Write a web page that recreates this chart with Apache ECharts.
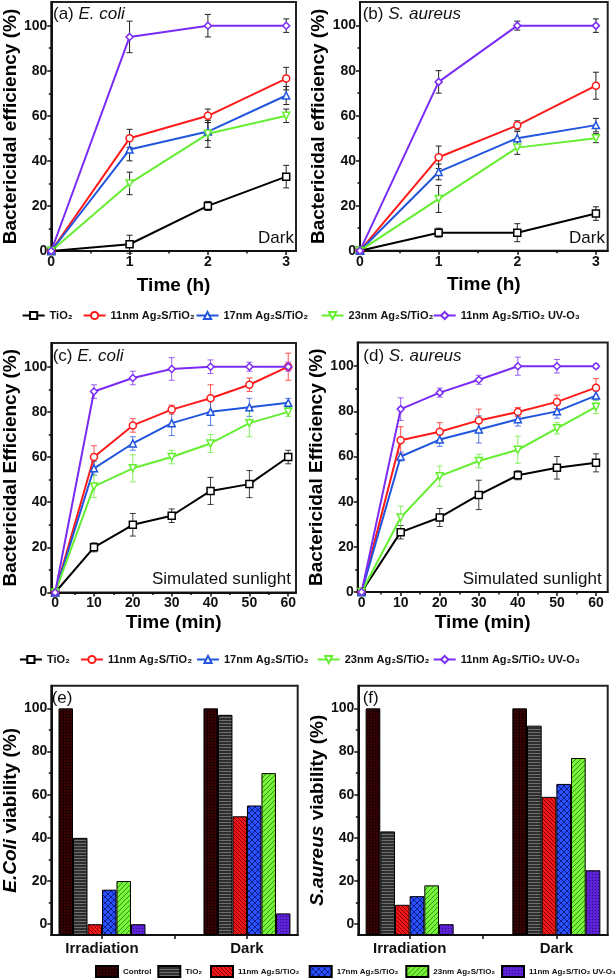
<!DOCTYPE html>
<html><head><meta charset="utf-8">
<script src="https://cdn.jsdelivr.net/npm/echarts@6/dist/echarts.min.js"></script>
<style>html,body{margin:0;padding:0;background:#fff}#c{width:616px;height:979px}</style>
</head><body><div id="c"></div>
<script>
// ---------------- DATA ----------------
const timeH = [0, 1, 2, 3];
const timeMin = [0, 10, 20, 30, 40, 50, 60];
const lineNames = ['TiO2', '11nm', '17nm', '23nm', 'UV'];
const lineLabels = ['TiO₂', '11nm Ag₂S/TiO₂', '17nm Ag₂S/TiO₂', '23nm Ag₂S/TiO₂', '11nm Ag₂S/TiO₂ UV-O₃'];

// (a) E. coli, dark
const aTiO2 = [0, 3, 20, 33],       aTiO2Err = [0, 4, 2, 5];
const a11   = [0, 50, 60, 76.5],    a11Err   = [0, 4, 3, 5];
const a17   = [0, 45, 53, 69],      a17Err   = [0, 5, 4, 4];
const a23   = [0, 30, 52, 60],      a23Err   = [0, 5, 6, 3];
const aUV   = [0, 95, 100, 100],    aUVErr   = [0, 7, 5, 3];
// (b) S. aureus, dark
const bTiO2 = [0, 8, 8, 16.5],      bTiO2Err = [0, 2, 4, 3];
const b11   = [0, 41.5, 55.7, 73.3],b11Err   = [0, 5, 2, 6];
const b17   = [0, 35, 50, 55.8],    b17Err   = [0, 3.5, 3, 3];
const b23   = [0, 23, 45.8, 50],    b23Err   = [0, 6, 3, 2];
const bUV   = [0, 75, 100, 100],    bUVErr   = [0, 5, 2, 3];
// (c) E. coli, simulated sunlight
const cTiO2 = [0, 20, 30, 34, 45, 48, 60],     cTiO2Err = [0, 2, 5, 3, 6, 6, 3];
const c11   = [0, 60, 74, 81, 86, 92, 100],    c11Err   = [0, 5, 3, 2, 6, 3, 6];
const c17   = [0, 55, 66, 75, 80, 82, 84],     c17Err   = [0, 3, 3, 5.5, 6, 4, 2];
const c23   = [0, 47, 55, 60, 66, 75, 80],     c23Err   = [0, 5, 6, 3, 4, 6, 2];
const cUV   = [0, 89, 95, 99, 100, 100, 100],  cUVErr   = [0, 3, 3, 5, 3, 2, 2];
// (d) S. aureus, simulated sunlight
const dTiO2 = [0, 26.5, 33, 43, 51.7, 55, 57.2],  dTiO2Err = [0, 3, 4, 6.5, 2, 5, 4];
const d11   = [0, 67.2, 71, 76, 79.7, 84.2, 90.5],d11Err   = [0, 6, 4, 5, 2, 3, 4];
const d17   = [0, 60, 67.5, 72, 76.5, 80, 87],    d17Err   = [0, 2, 3, 6, 3, 3, 2];
const d23   = [0, 33, 51.3, 58, 63, 72.5, 82],    d23Err   = [0, 5, 4.5, 3, 6, 2.5, 3];
const dUV   = [0, 81, 88.3, 94, 100, 100, 100],   dUVErr   = [0, 5, 2, 2, 4, 3, 1];

// (e)/(f) viability bars
const barGroups = ['Irradiation', 'Dark'];
const barPos = [1, 2];
const barNames = ['Control', 'TiO₂', '11nm Ag₂S/TiO₂', '17nm Ag₂S/TiO₂', '23nm Ag₂S/TiO₂', '11nm Ag₂S/TiO₂ UV-O₃'];
const eControl = [100, 100], eTiO2 = [40, 97], e11 = [0, 50], e17 = [16, 55], e23 = [20, 70], eUV = [0, 5];
const fControl = [100, 100], fTiO2 = [43, 92], f11 = [9, 59], f17 = [13, 65], f23 = [18, 77], fUV = [0, 25];

// ticks
const yMajor = [0, 20, 40, 60, 80, 100];
const yMinor = [10, 30, 50, 70, 90];
const xHMajor = [0, 1, 2, 3], xHMinor = [0.5, 1.5, 2.5];
const xMMajor = [0, 10, 20, 30, 40, 50, 60], xMMinor = [5, 15, 25, 35, 45, 55];
const barTicks = [1, 1.5, 2];

// ---------------- STYLE ----------------
const FONT = 'Liberation Sans, Arial, Helvetica, sans-serif';
const colors = ['#000000', '#ff1a1a', '#2255dd', '#66ee33', '#7a2cf5'];
const symbols = ['rect', 'circle', 'triangle', 'path://M0,0 L10,0 L5,9 Z', 'diamond'];

function pat(w, h, bg, fg, cells) {
  const c = document.createElement('canvas'); c.width = w; c.height = h;
  const x = c.getContext('2d'); x.fillStyle = bg; x.fillRect(0, 0, w, h);
  x.fillStyle = fg; cells.forEach(p => x.fillRect(p[0], p[1], 1, 1));
  return { image: c, repeat: 'repeat' };
}
const diag6 = []; for (let i = 0; i < 6; i++) { diag6.push([i, i]); diag6.push([5 - i, i]); }
const barFills = [
  pat(3, 3, '#3d0204', '#1c0000', [[0,0],[1,0],[2,0],[0,1],[0,2]]),
  pat(2, 3, '#2e2e2e', '#6e6e6e', [[0,0],[1,0]]),
  pat(4, 4, '#f01818', '#8a0000', [[0,0],[1,1],[2,2],[3,3]]),
  pat(6, 6, '#2a50ff', '#0c1e8c', diag6),
  pat(5, 5, '#7af23a', '#2d9a14', [[0,4],[1,3],[2,2],[3,1],[4,0]]),
  pat(3, 3, '#5d22d6', '#2e0b80', [[1,1]])
];

const grids = [
  { left: 48.5, top: 2, width: 247.5, height: 249 },
  { left: 360, top: 2, width: 247.7, height: 248.7 },
  { left: 47.7, top: 343, width: 248.3, height: 249.5 },
  { left: 357.7, top: 342.5, width: 250, height: 249.5 },
  { left: 48.3, top: 685.7, width: 249.4, height: 249.3 },
  { left: 358.3, top: 685.7, width: 249.4, height: 249.3 }
].map(g => Object.assign({ show: true, borderColor: '#222', borderWidth: 2, backgroundColor: 'transparent', containLabel: false }, g));

function axis(o) {
  const ns = o.nameSize || 19;
  return {
    type: 'value', gridIndex: o.g, min: o.min, max: o.max, position: o.pos,
    name: o.name || '', nameLocation: 'middle', nameGap: o.nameGap || 0,
    nameTextStyle: { fontFamily: FONT, fontSize: ns, fontWeight: 'bold', color: '#000',
      rich: { i: { fontFamily: FONT, fontSize: ns, fontWeight: 'bold', fontStyle: 'italic', color: '#000' } } },
    axisLine: { show: o.line !== false, onZero: false, lineStyle: { color: '#111', width: 2 } },
    axisTick: { show: true, inside: false, length: o.tickLen || 4, customValues: o.ticks, lineStyle: { color: '#111', width: 1.5 } },
    axisLabel: { show: !!o.labels, customValues: o.labels || [], margin: o.margin || 4, fontFamily: FONT,
      fontSize: o.labelSize || 14, fontWeight: 'bold', color: '#111', formatter: o.fmt },
    splitLine: { show: false }, minorTick: { show: false }, startValue: o.startValue
  };
}

const xAxes = [], yAxes = [];
function lineAxes(g, xmin, xmax, xMaj, xMin, xName, xGap, yGap, yName) {
  xAxes.push(axis({ g, min: xmin, max: xmax, pos: 'bottom', ticks: xMaj, labels: xMaj, name: xName, nameGap: xGap, margin: 4 }));
  xAxes.push(axis({ g, min: xmin, max: xmax, pos: 'bottom', ticks: xMin, line: false, tickLen: 2.5 }));
  yAxes.push(axis({ g, min: 0, max: 110.5, pos: 'left', ticks: yMajor, labels: yMajor, name: yName, nameGap: yGap, margin: 4 }));
  yAxes.push(axis({ g, min: 0, max: 110.5, pos: 'left', ticks: yMinor, line: false, tickLen: 2.5 }));
}
lineAxes(0, 0, 3.125, xHMajor, xHMinor, 'Time (h)', 25, 28, 'Bactericidal efficiency (%)');
lineAxes(1, 0, 3.15, xHMajor, xHMinor, 'Time (h)', 25, 29, 'Bactericidal efficiency (%)');
lineAxes(2, -1, 62, xMMajor, xMMinor, 'Time (min)', 21, 28, 'Bactericidal Efficiency (%)');
lineAxes(3, -1, 63, xMMajor, xMMinor, 'Time (min)', 21, 27, 'Bactericidal Efficiency (%)');
function barAxes(g, yName, yGap) {
  xAxes.push(axis({ g, min: 0.65, max: 2.35, pos: 'bottom', ticks: barTicks, labels: barPos, margin: 6, labelSize: 15,
    fmt: v => barGroups[Math.round(v) - 1] }));
  xAxes.push(axis({ g, min: 0.65, max: 2.35, pos: 'bottom', ticks: [], line: false }));
  yAxes.push(axis({ g, min: -5, max: 110.5, pos: 'left', ticks: yMajor, labels: yMajor, name: yName, nameGap: yGap, startValue: -5 }));
  yAxes.push(axis({ g, min: -5, max: 110.5, pos: 'left', ticks: yMinor, line: false, tickLen: 2.5 }));
}
barAxes(4, '{i|E.Coli} viability (%)', 24);
barAxes(5, '{i|S.aureus} viability (%)', 25);

const series = [];
function addLines(g, xs, vals, errs, errColored) {
  vals.forEach((v, k) => {
    const col = colors[k];
    const ec = errColored ? col : '#222';
    series.push({
      type: 'custom', name: 'err', xAxisIndex: 2 * g, yAxisIndex: 2 * g, z: 1, silent: true,
      data: xs.map((x, i) => [x, v[i] - errs[k][i], v[i] + errs[k][i]]).filter((d, i) => errs[k][i] > 0),
      encode: { x: 0, y: [1, 2] },
      renderItem: (params, api) => {
        const x = api.value(0), lo = api.value(1), hi = api.value(2);
        const p1 = api.coord([x, hi]), p2 = api.coord([x, lo]); const w = 3;
        const st = { stroke: ec, lineWidth: 1, opacity: errColored ? 0.75 : 1 };
        return { type: 'group', children: [
          { type: 'line', shape: { x1: p1[0], y1: p1[1], x2: p2[0], y2: p2[1] }, style: st },
          { type: 'line', shape: { x1: p1[0] - w, y1: p1[1], x2: p1[0] + w, y2: p1[1] }, style: st },
          { type: 'line', shape: { x1: p2[0] - w, y1: p2[1], x2: p2[0] + w, y2: p2[1] }, style: st }
        ] };
      }
    });
  });
  vals.forEach((v, k) => {
    series.push({
      type: 'line', name: lineNames[k], xAxisIndex: 2 * g, yAxisIndex: 2 * g, z: 3,
      data: xs.map((x, i) => [x, v[i]]),
      symbol: symbols[k], symbolSize: 7, showAllSymbol: true,
      lineStyle: { color: colors[k], width: 2 },
      itemStyle: { color: '#fff', borderColor: colors[k], borderWidth: 1.5 },
      emphasis: { disabled: true }
    });
  });
}
addLines(0, timeH, [aTiO2, a11, a17, a23, aUV], [aTiO2Err, a11Err, a17Err, a23Err, aUVErr], false);
addLines(1, timeH, [bTiO2, b11, b17, b23, bUV], [bTiO2Err, b11Err, b17Err, b23Err, bUVErr], false);
addLines(2, timeMin, [cTiO2, c11, c17, c23, cUV], [cTiO2Err, c11Err, c17Err, c23Err, cUVErr], true);
addLines(3, timeMin, [dTiO2, d11, d17, d23, dUV], [dTiO2Err, d11Err, d17Err, d23Err, dUVErr], true);

function addBars(g, sets) {
  sets.forEach((v, k) => {
    series.push({
      type: 'bar', name: 'bar' + k, xAxisIndex: 2 * g, yAxisIndex: 2 * g,
      data: barPos.map((x, i) => [x, v[i]]),
      barWidth: '10%', barGap: '0%',
      itemStyle: { color: barFills[k], borderColor: '#000', borderWidth: 1 },
      emphasis: { disabled: true }
    });
  });
}
addBars(4, [eControl, eTiO2, e11, e17, e23, eUV]);
addBars(5, [fControl, fTiO2, f11, f17, f23, fUV]);

// legends
const legends = [];
const row1Left = [21.6, 82.6, 195.5, 320.6, 432.7];
const row2Left = [18.9, 79.9, 196, 316.7, 432.7];
const barLegLeft = [95, 157.3, 210, 308.7, 405.3, 501];
function lineLegend(lefts, top) {
  lineNames.forEach((n, k) => legends.push({
    data: [n], left: lefts[k], top, padding: 0, itemWidth: 22, itemHeight: 9, selectedMode: false,
    formatter: lineLabels[k], textStyle: { fontFamily: FONT, fontSize: 11, fontWeight: 'bold', color: '#111' }
  }));
}
lineLegend(row1Left, 310);
lineLegend(row2Left, 654);
barNames.forEach((n, k) => legends.push({
  data: ['bar' + k], left: barLegLeft[k], top: 965, padding: 0, itemWidth: 22, itemHeight: 11, selectedMode: false,
  icon: 'rect', formatter: n, textStyle: { fontFamily: FONT, fontSize: 8, fontWeight: 'bold', color: '#111' }
}));

function note(text, left, top) {
  return { text, left, top, padding: 0,
    textStyle: { fontFamily: FONT, fontSize: 17, fontWeight: 'normal', color: '#111',
      rich: { i: { fontFamily: FONT, fontSize: 17, fontStyle: 'italic', color: '#111' } } } };
}
const titles = [
  note('(a) {i|E. coli}', 53, 6), note('Dark', 258, 230),
  note('(b) {i|S. aureus}', 362.7, 6), note('Dark', 569, 230),
  note('(c) {i|E. coli}', 52.7, 348), note('Simulated sunlight', 152, 571),
  note('(d) {i|S. aureus}', 363.3, 348), note('Simulated sunlight', 462.7, 571),
  note('(e)', 51.7, 690), note('(f)', 362.7, 690)
];

const chart = echarts.init(document.getElementById('c'), null, { renderer: 'canvas' });
chart.setOption({
  animation: false, backgroundColor: '#fff',
  title: titles, legend: legends, grid: grids, xAxis: xAxes, yAxis: yAxes, series
});
</script></body></html>
